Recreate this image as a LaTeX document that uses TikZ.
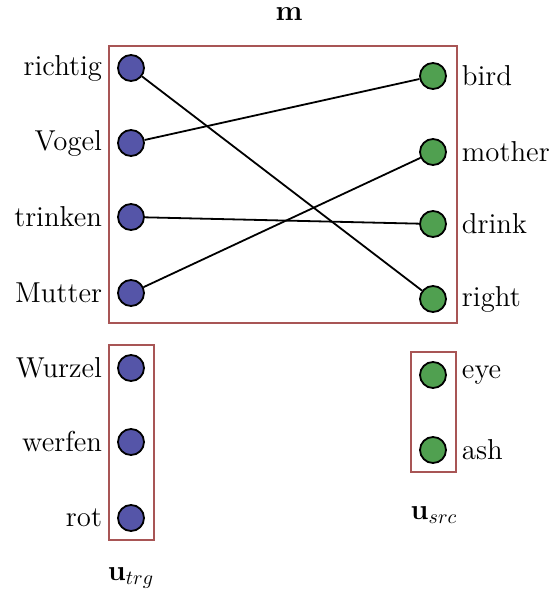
\documentclass[tikz,border=0pt]{standalone}
\usetikzlibrary{positioning}
\definecolor{trgblue}{RGB}{85,85,168}
\definecolor{srcgreen}{RGB}{80,160,80}
\definecolor{boxred}{RGB}{168,85,85}
\tikzset{
  word/.style={circle,draw=black,line width=0.9pt,minimum size=13pt,inner sep=0pt},
  trg/.style={word,fill=trgblue},
  src/.style={word,fill=srcgreen},
  grp/.style={draw=boxred,line width=0.9pt},
  align/.style={line width=0.9pt}
}
\begin{document}
\begin{tikzpicture}[x=0.5pt,y=-0.5pt,font=\Large]
                \useasboundingbox (0,0) rectangle (553,597);
                % boxes
                \draw[grp] (109,46) rectangle (457,323);
                \draw[grp] (109,345) rectangle (154,540);
                \draw[grp] (411,352) rectangle (456,472);
                \node (m) at (289,14) {$\mathbf{m}$};
                \node (utrg) at (131,578) {$\mathbf{u}_{trg}$};
                \node (usrc) at (434,515) {$\mathbf{u}_{src}$};
                % target words
                \node[trg] (richtig) at (131,68) {};
                \node[trg] (vogel) at (131,143) {};
                \node[trg] (trinken) at (131,217) {};
                \node[trg] (mutter) at (131,293) {};
                \node[trg] (wurzel) at (131,368) {};
                \node[trg] (werfen) at (131,442) {};
                \node[trg] (rot) at (131,518) {};
                \node[left=4pt of richtig] {richtig};
                \node[left=4pt of vogel] {Vogel};
                \node[left=4pt of trinken] {trinken};
                \node[left=4pt of mutter] {Mutter};
                \node[left=4pt of wurzel] {Wurzel};
                \node[left=4pt of werfen] {werfen};
                \node[left=4pt of rot] {rot};
                % source words
                \node[src] (bird) at (433,76) {};
                \node[src] (mother) at (433,152) {};
                \node[src] (drink) at (433,224) {};
                \node[src] (right) at (433,299) {};
                \node[src] (eye) at (433,375) {};
                \node[src] (ash) at (433,450) {};
                \node[right=4pt of bird] {bird};
                \node[right=4pt of mother] {mother};
                \node[right=4pt of drink] {drink};
                \node[right=4pt of right] {right};
                \node[right=4pt of eye] {eye};
                \node[right=4pt of ash] {ash};
                % alignments
                \draw[align] (richtig) -- (right);
                \draw[align] (vogel) -- (bird);
                \draw[align] (trinken) -- (drink);
                \draw[align] (mutter) -- (mother);
\end{tikzpicture}
\end{document}
